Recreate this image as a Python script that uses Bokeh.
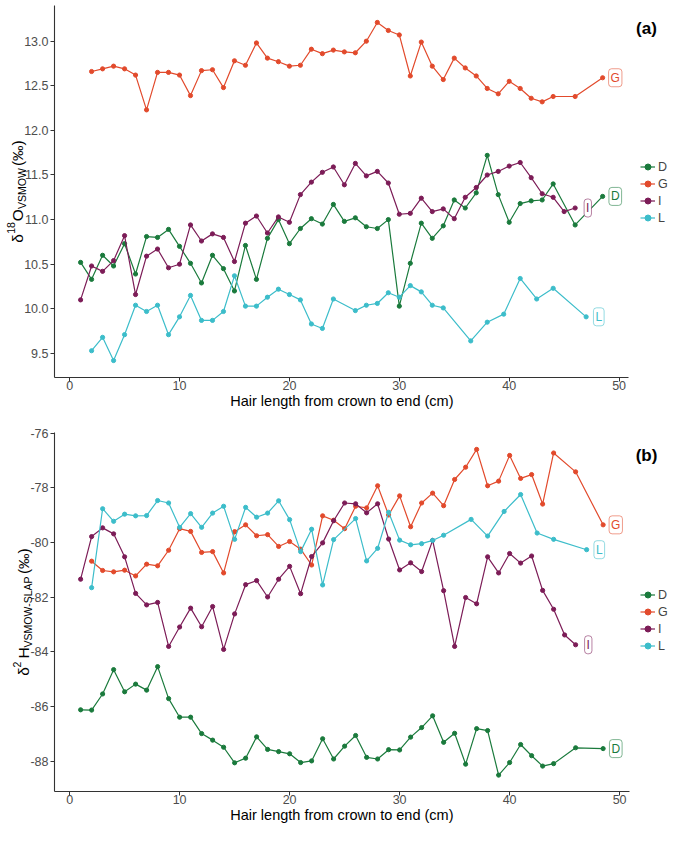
import math
from bokeh.plotting import figure
from bokeh.models import Range1d, FixedTicker, Label, Legend, LegendItem, LinearAxis
from bokeh.layouts import column
from bokeh.embed import file_html
from bokeh.resources import INLINE

# ---------------- data ----------------
series_names = ["D", "G", "I", "L"]
series_colors = ["#1a7a3c", "#e24a2c", "#7c1c57", "#3cbdca"]

x_tick_values = [0, 10, 20, 30, 40, 50]
x_tick_labels = ["0", "10", "20", "30", "40", "50"]

a_y_tick_values = [9.5, 10.0, 10.5, 11.0, 11.5, 12.0, 12.5, 13.0]
a_y_tick_labels = ["9.5", "10.0", "10.5", "11.0", "11.5", "12.0", "12.5", "13.0"]
b_y_tick_values = [-88, -86, -84, -82, -80, -78, -76]
b_y_tick_labels = ["-88", "-86", "-84", "-82", "-80", "-78", "-76"]

# hair positions (cm) per participant
D_x = list(range(1, 45)) + [46, 48.5]
G_x = list(range(2, 45)) + [46, 48.5]
I_x = list(range(1, 47))
L_x = list(range(2, 25)) + list(range(26, 35)) + [36.5, 38, 39.5, 41, 42.5, 44, 47]

# panel (a): d18O VSMOW
a_D = [10.52, 10.33, 10.60, 10.48, 10.73, 10.39, 10.81, 10.80, 10.89, 10.70,
       10.51, 10.29, 10.60, 10.45, 10.20, 10.71, 10.33, 10.79, 11.00, 10.73,
       10.90, 11.01, 10.95, 11.17, 10.98, 11.02, 10.92, 10.90, 11.00, 10.03,
       10.51, 10.96, 10.79, 10.93, 11.22, 11.13, 11.30, 11.72, 11.28, 10.97,
       11.18, 11.21, 11.22, 11.40, 10.94, 11.26]
a_G = [12.66, 12.69, 12.72, 12.69, 12.62, 12.23, 12.65, 12.65, 12.62, 12.39,
       12.67, 12.68, 12.48, 12.78, 12.73, 12.98, 12.81, 12.77, 12.72, 12.73,
       12.91, 12.86, 12.90, 12.88, 12.87, 13.00, 13.21, 13.12, 13.07, 12.61,
       12.99, 12.72, 12.57, 12.81, 12.70, 12.61, 12.47, 12.41, 12.55, 12.47,
       12.36, 12.32, 12.38, 12.38, 12.59]
a_I = [10.10, 10.48, 10.42, 10.54, 10.82, 10.16, 10.59, 10.67, 10.46, 10.50,
       10.94, 10.76, 10.84, 10.80, 10.53, 10.96, 11.04, 10.85, 11.03, 10.97,
       11.28, 11.42, 11.53, 11.59, 11.39, 11.63, 11.49, 11.54, 11.41, 11.06,
       11.07, 11.24, 11.09, 11.12, 11.01, 11.25, 11.36, 11.50, 11.54, 11.60,
       11.64, 11.47, 11.29, 11.25, 11.09, 11.13]
a_L = [9.53, 9.68, 9.42, 9.71, 10.04, 9.97, 10.04, 9.71, 9.91, 10.15,
       9.87, 9.87, 9.97, 10.37, 10.03, 10.03, 10.13, 10.22, 10.16, 10.10,
       9.83, 9.78, 10.11, 9.98, 10.04, 10.06, 10.18, 10.13, 10.26, 10.19,
       10.04, 10.01, 9.64, 9.85, 9.94, 10.34, 10.11, 10.23, 9.91]

# panel (b): d2H VSMOW-SLAP
b_D = [-86.12, -86.13, -85.54, -84.65, -85.46, -85.18, -85.40, -84.54, -85.71, -86.39,
       -86.39, -86.99, -87.23, -87.49, -88.06, -87.89, -87.11, -87.57, -87.65, -87.73,
       -88.05, -87.99, -87.18, -87.92, -87.45, -87.06, -87.86, -87.92, -87.58, -87.59,
       -87.12, -86.77, -86.34, -87.31, -86.98, -88.11, -86.81, -86.88, -88.51, -88.05,
       -87.39, -87.80, -88.18, -88.09, -87.51, -87.54]
b_G = [-80.68, -81.02, -81.07, -81.01, -81.22, -80.79, -80.85, -80.28, -79.49, -79.59,
       -80.36, -80.33, -81.11, -79.60, -79.35, -79.75, -79.71, -80.14, -79.96, -80.24,
       -80.82, -79.02, -79.18, -79.49, -78.67, -78.73, -77.92, -78.99, -78.29, -79.42,
       -78.55, -78.19, -78.65, -77.69, -77.24, -76.59, -77.92, -77.75, -76.81, -77.65,
       -77.51, -78.59, -76.72, -77.41, -79.35]
b_I = [-81.34, -79.78, -79.46, -79.68, -80.52, -81.86, -82.28, -82.19, -83.80, -83.09,
       -82.40, -83.08, -82.34, -83.91, -82.61, -81.54, -81.39, -81.99, -81.34, -80.87,
       -81.87, -80.51, -80.01, -79.20, -78.55, -78.58, -78.91, -78.58, -79.87, -81.00,
       -80.74, -81.06, -79.92, -81.76, -83.80, -82.01, -82.24, -80.52, -81.11, -80.40,
       -80.75, -80.49, -81.75, -82.44, -83.38, -83.74]
b_L = [-81.65, -78.76, -79.22, -78.96, -79.02, -79.01, -78.46, -78.55, -79.44, -78.94,
       -79.44, -78.92, -78.67, -79.88, -78.71, -79.07, -78.92, -78.47, -79.16, -80.33,
       -79.51, -81.55, -79.89, -79.12, -80.67, -80.21, -78.89, -79.91, -80.08, -80.04,
       -79.92, -79.73, -79.15, -79.76, -78.86, -78.24, -79.65, -79.88, -80.26]

x_axis_title = "Hair length from crown to end (cm)"

FONT = "Liberation Sans"
W = 669
NB = "\u00a0"
X_LO, X_HI = -1.375, 50.875
BOTTOM = 35

# y-axis titles: main-size text, subscript and superscript parts
a_title_main = "δ" + NB * 3 + "O" + NB * 10 + "(‰)"
a_title_sub = NB * 2 + "VSMOW"
a_title_sup = "18" + NB * 25
b_title_main = "δ" + NB * 2 + "H" + NB * 17 + "(‰)"
b_title_sub = "VSMOW-SLAP"
b_title_sup = "2" + NB * 36


def blank_axis(label, size, standoff):
    ax = LinearAxis(ticker=FixedTicker(ticks=[]))
    ax.axis_line_color = None
    ax.major_tick_line_color = None
    ax.minor_tick_line_color = None
    ax.major_tick_out = 0
    ax.major_tick_in = 0
    ax.minor_tick_out = 0
    ax.minor_tick_in = 0
    ax.major_label_standoff = 0
    ax.major_label_text_font_size = "0px"
    ax.axis_label = label
    ax.axis_label_standoff = standoff
    ax.axis_label_text_font = FONT
    ax.axis_label_text_font_size = size
    ax.axis_label_text_font_style = "normal"
    ax.axis_label_text_color = "black"
    return ax


def make_panel(xs, ys, y_range, yt_vals, yt_labels, tag, height, b_top, b_left,
               px_per_cm, t_main, t_sub, t_sup, legend_y, tag_below_top):
    frame_w = W - b_left
    frame_h = height - b_top - BOTTOM
    x_end = X_LO + frame_w / px_per_cm
    p = figure(width=W, height=height, output_backend="svg", toolbar_location=None,
               x_range=Range1d(X_LO, x_end), y_range=Range1d(*y_range),
               min_border_left=b_left, min_border_right=0,
               min_border_top=b_top, min_border_bottom=BOTTOM)
    p.outline_line_color = None
    p.xgrid.visible = False
    p.ygrid.visible = False
    p.background_fill_color = "white"
    p.border_fill_color = "white"

    xa = p.xaxis[0]
    ya = p.yaxis[0]
    for ax in (xa, ya):
        ax.axis_line_color = "#333333"
        ax.axis_line_width = 1.1
        ax.major_tick_line_color = "#333333"
        ax.major_tick_out = 4
        ax.major_tick_in = 0
        ax.minor_tick_line_color = None
        ax.minor_tick_out = 0
        ax.major_label_text_color = "#4d4d4d"
        ax.major_label_text_font = FONT
        ax.major_label_text_font_size = "12.5px"
    ya.major_label_standoff = 2
    xa.major_label_standoff = -1
    xa.bounds = (X_LO, X_HI)
    xa.ticker = FixedTicker(ticks=x_tick_values)
    xa.major_label_overrides = dict(zip(x_tick_values, x_tick_labels))
    ya.ticker = FixedTicker(ticks=yt_vals)
    ya.major_label_overrides = dict(zip(yt_vals, yt_labels))
    # axis title is centred on the whole frame; pad it so that it is centred
    # on the drawn axis extent instead
    shift = frame_w / 2 - (X_HI - X_LO) * px_per_cm / 2
    n_pad = int(round(2 * shift / (0.278 * 14.5)))
    xa.axis_label = x_axis_title + NB * n_pad
    xa.axis_label_text_font = FONT
    xa.axis_label_text_font_size = "14.5px"
    xa.axis_label_text_font_style = "normal"
    xa.axis_label_text_color = "black"
    xa.axis_label_standoff = 0

    # subscript part is the primary y-axis label; main text and superscript
    # come from label-only axes stacked outward with negative standoffs
    ya.axis_label = t_sub
    ya.axis_label_standoff = -7
    ya.axis_label_text_font = FONT
    ya.axis_label_text_font_size = "10.5px"
    ya.axis_label_text_font_style = "normal"
    ya.axis_label_text_color = "black"
    p.add_layout(blank_axis(t_main, "15.5px", -12), "left")
    p.add_layout(blank_axis(t_sup, "10.5px", -11), "left")

    items = []
    for name, col, x, y in zip(series_names, series_colors, xs, ys):
        ln = p.line(x, y, line_color=col, line_width=1.2)
        sc = p.scatter(x, y, size=4.2, fill_color=col, line_color=col)
        items.append(LegendItem(label=name, renderers=[ln, sc]))
        p.add_layout(Label(x=x[-1] + 1.15, y=y[-1], text=name,
                           text_align="center", text_baseline="middle",
                           text_color=col, text_font=FONT, text_font_size="12px",
                           background_fill_color="white",
                           border_line_color=col, border_line_alpha=0.55,
                           border_radius=3, padding=2))

    leg = Legend(items=items, location=(640 - b_left, legend_y),
                 orientation="vertical")
    leg.border_line_color = None
    leg.background_fill_alpha = 0
    leg.margin = 0
    leg.padding = 0
    leg.spacing = 0
    leg.glyph_width = 15
    leg.glyph_height = 17
    leg.label_height = 17
    leg.label_width = 10
    leg.label_standoff = 3
    leg.label_text_font = FONT
    leg.label_text_font_size = "12.5px"
    p.add_layout(leg, "center")

    p.add_layout(Label(x=646 - b_left, y=frame_h - tag_below_top,
                       x_units="screen", y_units="screen", text=tag, text_font=FONT,
                       text_font_size="17px", text_font_style="bold",
                       text_align="center", text_baseline="middle",
                       text_color="black"))
    return p


pa = make_panel([D_x, G_x, I_x, L_x], [a_D, a_G, a_I, a_L], (9.23, 13.40),
                a_y_tick_values, a_y_tick_labels, "(a)", 412, 5, 54, 10.99,
                a_title_main, a_title_sub, a_title_sup, 151, 23)
pb = make_panel([D_x, G_x, I_x, L_x], [b_D, b_G, b_I, b_L], (-89.11, -75.97),
                b_y_tick_values, b_y_tick_labels, "(b)", 414, 20, 54, 11.0,
                b_title_main, b_title_sub, b_title_sup, 137, 23)

layout = column(pa, pb, spacing=0)
open("out.html", "w").write(file_html(layout, INLINE))
